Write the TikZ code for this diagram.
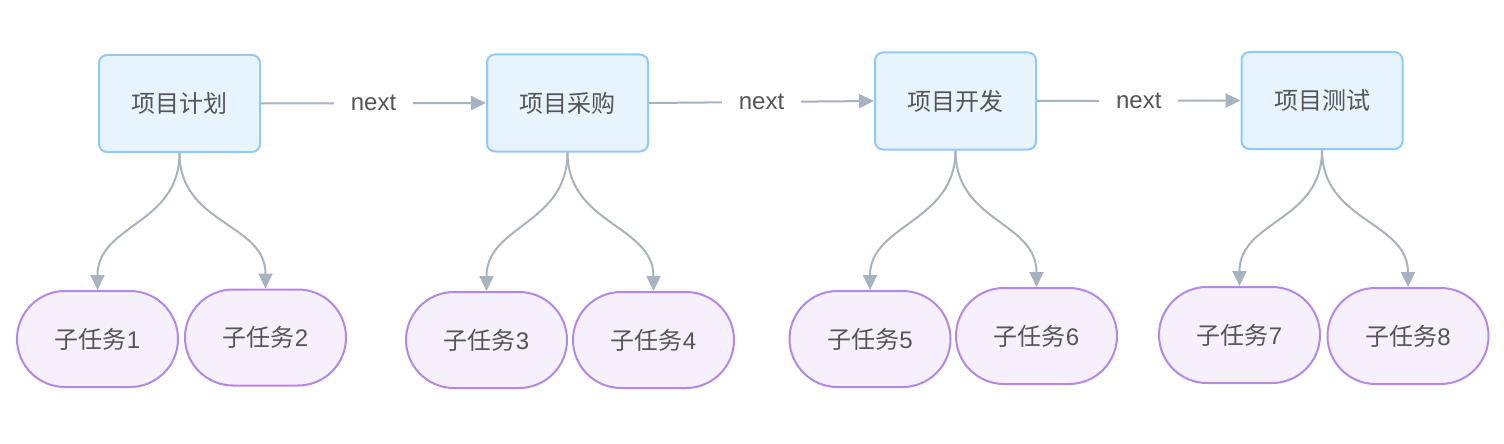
\documentclass[tikz,border=0pt]{standalone}
\usepackage{fontspec}
\setmainfont{Liberation Sans}
\newfontfamily\cjk{Noto Sans CJK SC}
\usetikzlibrary{arrows.meta,shapes.misc}
\definecolor{txt}{HTML}{555555}
\definecolor{topfill}{HTML}{E8F4FD}
\definecolor{topdraw}{HTML}{90CAF9}
\definecolor{subfill}{HTML}{F5F0FC}
\definecolor{subdraw}{HTML}{B388E8}
\definecolor{edgec}{HTML}{A8B3C1}
\begin{document}
\begin{tikzpicture}[x=1pt,y=-1pt,
  font=\fontsize{24}{28}\selectfont, text=txt,
  topbox/.style={draw=topdraw, fill=topfill, line width=2pt, rounded corners=8pt,
    minimum width=161pt, minimum height=97pt, inner sep=0pt},
  subbox/.style={draw=subdraw, fill=subfill, line width=2pt, rounded rectangle,
    minimum width=161pt, minimum height=96pt, inner sep=0pt},
  edge/.style={draw=edgec, line width=2pt, -{Triangle[length=15pt,width=14pt]}},
  lbl/.style={fill=white, inner xsep=17pt, inner ysep=4pt, text=txt}
]
\useasboundingbox (0,0) rectangle (1504,444);
\fill[white] (0,0) rectangle (1504,444);

\node[topbox] (t1) at (179.5,103.5) {{\cjk 项目计划}};
\node[topbox] (t2) at (567.5,103) {{\cjk 项目采购}};
\node[topbox] (t3) at (955.5,101) {{\cjk 项目开发}};
\node[topbox] (t4) at (1322,100.5) {{\cjk 项目测试}};

\node[subbox] (s1) at (97.5,339) {{\cjk 子任务}1};
\node[subbox] (s2) at (265.5,337.5) {{\cjk 子任务}2};
\node[subbox] (s3) at (486.5,340) {{\cjk 子任务}3};
\node[subbox] (s4) at (653.5,340) {{\cjk 子任务}4};
\node[subbox] (s5) at (870,339) {{\cjk 子任务}5};
\node[subbox] (s6) at (1036.5,336) {{\cjk 子任务}6};
\node[subbox] (s7) at (1239.5,335) {{\cjk 子任务}7};
\node[subbox] (s8) at (1408,336) {{\cjk 子任务}8};

\draw[edge] (t1.east) -- node[lbl] (n1) {next} (t2.west);
\draw[edge] (t2.east) -- node[lbl] (n2) {next} (t3.west);
\draw[edge] (t3.east) -- node[lbl] (n3) {next} (t4.west);

\foreach \t/\a/\b in {t1/s1/s2, t2/s3/s4, t3/s5/s6, t4/s7/s8}{
  \draw[edge] (\t.south) .. controls +(0,72) and +(0,-66) .. (\a.north);
  \draw[edge] (\t.south) .. controls +(0,72) and +(0,-66) .. (\b.north);
}
\end{tikzpicture}
\end{document}
